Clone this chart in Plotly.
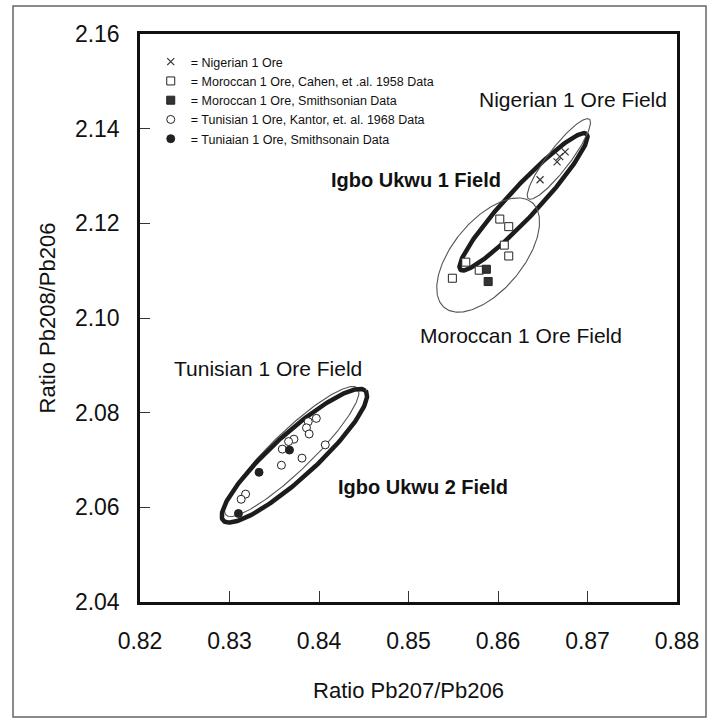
import numpy as np
import plotly.graph_objects as go

# ---------------- data ----------------
nigerian_x = [0.8675, 0.8669, 0.8666, 0.8647]
nigerian_y = [2.1351, 2.1341, 2.1330, 2.1292]

mor_cahen_x = [0.8602, 0.8612, 0.8607, 0.8612, 0.8564, 0.8579, 0.8549]
mor_cahen_y = [2.1209, 2.1193, 2.1154, 2.1131, 2.1118, 2.1101, 2.1084]

mor_smith_x = [0.8587, 0.8589]
mor_smith_y = [2.1103, 2.1077]

tun_kantor_x = [0.8397, 0.8388, 0.8386, 0.8389, 0.8372, 0.8366, 0.8359,
                0.8407, 0.8381, 0.8358, 0.8318, 0.8313]
tun_kantor_y = [2.0788, 2.0781, 2.0768, 2.0755, 2.0744, 2.0739, 2.0723,
                2.0732, 2.0704, 2.0689, 2.0628, 2.0617]

tun_smith_x = [0.8367, 0.8333, 0.8310]
tun_smith_y = [2.0721, 2.0674, 2.0587]

# fields: (lower tip x, lower tip y, upper tip x, upper tip y, half width in px)
field_names = ["Igbo Ukwu 1", "Nigerian 1 Ore", "Moroccan 1 Ore", "Tunisian 1 Ore", "Igbo Ukwu 2"]
field_lo_x = [0.8558, 0.8634, 0.8540, 0.8296, 0.8293]
field_lo_y = [2.1102, 2.1252, 2.1022, 2.0584, 2.0572]
field_hi_x = [0.8699, 0.8702, 0.8638, 0.8443, 0.8452]
field_hi_y = [2.1389, 2.1420, 2.1244, 2.0852, 2.0846]
field_halfwidth = [15, 11, 35, 20, 22]
field_thick = [True, False, False, False, True]

label_text = ["Nigerian 1 Ore Field", "<b>Igbo Ukwu 1 Field</b>", "Moroccan 1 Ore Field",
              "Tunisian 1 Ore Field", "<b>Igbo Ukwu 2 Field</b>"]
label_x = [0.8684, 0.8508, 0.8626, 0.8343, 0.8516]
label_y = [2.1461, 2.1292, 2.0964, 2.0894, 2.0643]
label_bold = [False, True, False, False, True]

x_ticks = [0.82, 0.83, 0.84, 0.85, 0.86, 0.87, 0.88]
y_ticks = [2.04, 2.06, 2.08, 2.10, 2.12, 2.14, 2.16]

# ---------------- layout geometry ----------------
W, H = 713, 725
ML, MR, MT, MB = 140, 36, 34, 123
PW, PH = W - ML - MR, H - MT - MB
XR = [0.82, 0.88]
YR = [2.04, 2.16]
sx = PW / (XR[1] - XR[0])
sy = PH / (YR[1] - YR[0])


def ellipse(x0, y0, x1, y1, hw, n=240):
    # work in pixel-like space so the ellipse looks right on screen
    px0, py0 = x0 * sx, y0 * sy
    px1, py1 = x1 * sx, y1 * sy
    cx, cy = (px0 + px1) / 2, (py0 + py1) / 2
    a = np.hypot(px1 - px0, py1 - py0) / 2
    ang = np.arctan2(py1 - py0, px1 - px0)
    t = np.linspace(0, 2 * np.pi, n)
    ex = a * np.cos(t)
    ey = hw * np.sin(t)
    X = cx + ex * np.cos(ang) - ey * np.sin(ang)
    Y = cy + ex * np.sin(ang) + ey * np.cos(ang)
    return X / sx, Y / sy


fig = go.Figure()

for i in range(len(field_names)):
    ex, ey = ellipse(field_lo_x[i], field_lo_y[i], field_hi_x[i], field_hi_y[i], field_halfwidth[i])
    if field_thick[i]:
        line = dict(color="#1c1c1c", width=4.5)
    else:
        line = dict(color="#555555", width=1.1)
    fig.add_trace(go.Scatter(x=ex, y=ey, mode="lines", line=line, showlegend=False,
                             hoverinfo="skip", name=field_names[i]))

mk_line = dict(color="#222222", width=1)
fig.add_trace(go.Scatter(x=nigerian_x, y=nigerian_y, mode="markers", name="= Nigerian 1 Ore",
                         marker=dict(symbol="x-thin", size=7, line=dict(color="#333333", width=1.2))))
fig.add_trace(go.Scatter(x=mor_cahen_x, y=mor_cahen_y, mode="markers",
                         name="= Moroccan 1 Ore, Cahen, et .al. 1958 Data",
                         marker=dict(symbol="square", size=8, color="white", line=mk_line)))
fig.add_trace(go.Scatter(x=mor_smith_x, y=mor_smith_y, mode="markers",
                         name="= Moroccan 1 Ore, Smithsonian Data",
                         marker=dict(symbol="square", size=8, color="#333333", line=mk_line)))
fig.add_trace(go.Scatter(x=tun_kantor_x, y=tun_kantor_y, mode="markers",
                         name="= Tunisian 1 Ore, Kantor, et. al. 1968 Data",
                         marker=dict(symbol="circle", size=8, color="white", line=mk_line)))
fig.add_trace(go.Scatter(x=tun_smith_x, y=tun_smith_y, mode="markers",
                         name="= Tuniaian 1 Ore, Smithsonain Data",
                         marker=dict(symbol="circle", size=8, color="#222222", line=mk_line)))

font_main = "Liberation Sans, Arial, sans-serif"

annotations = []
for t, x, y, b in zip(label_text, label_x, label_y, label_bold):
    annotations.append(dict(x=x, y=y, xref="x", yref="y", text=t, showarrow=False,
                            font=dict(size=20 if b else 21, color="#111111", family=font_main)))

fig.update_layout(
    width=W, height=H,
    margin=dict(l=ML, r=MR, t=MT, b=MB),
    paper_bgcolor="white", plot_bgcolor="white",
    font=dict(family=font_main, color="#111111"),
    showlegend=True,
    legend=dict(x=0.02, y=0.977, xanchor="left", yanchor="top",
                font=dict(size=12.5, color="#111111", family=font_main),
                bgcolor="rgba(0,0,0,0)", itemsizing="trace", tracegroupgap=0),
    annotations=annotations,
    shapes=[dict(type="rect", xref="paper", yref="paper",
                 x0=(13 - ML) / PW, x1=(706 - ML) / PW,
                 y0=(H - MB - 717) / PH, y1=(H - MB - 6) / PH,
                 line=dict(color="#666666", width=1.5), layer="below")],
)

fig.update_xaxes(range=XR, tickvals=x_ticks, ticktext=[f"{v:.2f}" for v in x_ticks],
                 showgrid=False, zeroline=False, showline=True, linecolor="#111111", linewidth=2.5,
                 mirror=True, ticks="inside", ticklen=11, tickwidth=1, tickcolor="#333333",
                 tickfont=dict(size=23), ticklabelstandoff=17,
                 title=dict(text="Ratio Pb207/Pb206", font=dict(size=22), standoff=30))
fig.update_yaxes(range=YR, tickvals=y_ticks, ticktext=[f"{v:.2f}" for v in y_ticks],
                 showgrid=False, zeroline=False, showline=True, linecolor="#111111", linewidth=2.5,
                 mirror=True, ticks="inside", ticklen=10, tickwidth=1, tickcolor="#333333",
                 tickfont=dict(size=23), ticklabelstandoff=13,
                 title=dict(text="Ratio Pb208/Pb206", font=dict(size=22), standoff=14))

fig.write_html("out.html")
